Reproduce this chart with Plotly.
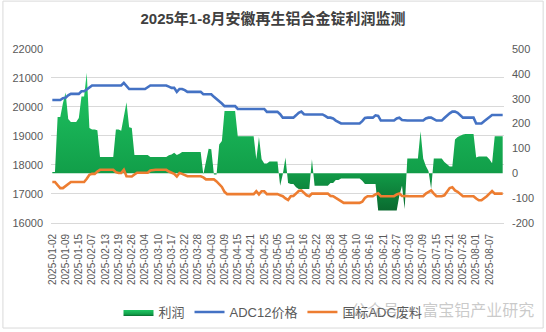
import plotly.graph_objects as go

# Tick labels shown on the category axis (one every 5 trading days)
date_labels = [
    "2025-01-02", "2025-01-09", "2025-01-15", "2025-02-07", "2025-02-13",
    "2025-02-19", "2025-02-26", "2025-03-04", "2025-03-10", "2025-03-17",
    "2025-03-22", "2025-03-28", "2025-04-03", "2025-04-09", "2025-04-15",
    "2025-04-21", "2025-04-25", "2025-05-05", "2025-05-10", "2025-05-16",
    "2025-05-22", "2025-05-28", "2025-06-04", "2025-06-10", "2025-06-16",
    "2025-06-21", "2025-06-27", "2025-07-03", "2025-07-09", "2025-07-15",
    "2025-07-21", "2025-07-26", "2025-08-01", "2025-08-07",
]
label_step = 5

# ADC12 price (yuan/t), left axis
adc12_price = [
    20240, 20240, 20240, 20240, 20300, 20320, 20400, 20450, 20450, 20450,
    20450, 20540, 20540, 20600, 20680, 20740, 20740, 20740, 20740, 20740,
    20740, 20740, 20740, 20740, 20740, 20740, 20740, 20830, 20720, 20620,
    20620, 20620, 20620, 20620, 20620, 20620, 20680, 20740, 20740, 20740,
    20740, 20740, 20740, 20740, 20700, 20660, 20660, 20520, 20620, 20620,
    20580, 20520, 20520, 20520, 20520, 20520, 20520, 20440, 20440, 20440,
    20440, 20350, 20280, 20200, 20120, 20030, 20030, 20030, 20030, 20030,
    19930, 19930, 19930, 19930, 19930, 19930, 19930, 19930, 19930, 19930,
    19930, 19830, 19830, 19830, 19830, 19830, 19750, 19630, 19630, 19630,
    19630, 19630, 19710, 19800, 19840, 19750, 19740, 19740, 19740, 19740,
    19740, 19740, 19740, 19690, 19630, 19630, 19600, 19530, 19480, 19430,
    19430, 19430, 19430, 19430, 19430, 19430, 19430, 19510, 19620, 19630,
    19630, 19630, 19710, 19690, 19530, 19530, 19530, 19530, 19530, 19530,
    19600, 19630, 19550, 19530, 19530, 19530, 19530, 19530, 19530, 19530,
    19530, 19600, 19630, 19630, 19580, 19530, 19530, 19530, 19620, 19710,
    19780, 19840, 19840, 19800, 19720, 19630, 19630, 19630, 19630, 19630,
    19430, 19430, 19430, 19510, 19580, 19660, 19720, 19720, 19720, 19720,
    19720,
]

# National-standard ADC scrap price (yuan/t), left axis
adc_scrap_price = [
    17410, 17410, 17300, 17200, 17200, 17260, 17350, 17410, 17410, 17410,
    17410, 17410, 17410, 17520, 17660, 17690, 17690, 17770, 17830, 17830,
    17830, 17830, 17830, 17830, 17750, 17720, 17720, 17830, 17610, 17600,
    17600, 17670, 17730, 17730, 17730, 17730, 17730, 17810, 17830, 17830,
    17830, 17830, 17830, 17830, 17770, 17730, 17690, 17600, 17720, 17690,
    17640, 17610, 17610, 17610, 17610, 17610, 17610, 17570, 17500, 17500,
    17500, 17500, 17430, 17350, 17240, 17070, 16990, 16990, 16990, 16990,
    16990, 16990, 16990, 16990, 16990, 16990, 16990, 17090, 16980, 17090,
    17090, 16990, 16990, 16990, 16990, 16990, 16950, 16920, 16840, 16790,
    16920, 16930, 17010, 17100, 17120, 17030, 16950, 16920, 17010, 17010,
    17010, 17010, 17010, 17010, 17010, 16930, 16920, 16860, 16800, 16730,
    16690, 16690, 16690, 16690, 16690, 16690, 16690, 16730, 16860, 16920,
    16920, 16920, 16980, 17020, 16920, 16920, 16920, 16920, 16920, 16920,
    16980, 17010, 16930, 16920, 16920, 16920, 16920, 16920, 16920, 16920,
    16920, 17010, 17070, 17120, 17010, 16920, 16920, 16920, 16950, 17090,
    17200, 17230, 17120, 17070, 17010, 16920, 16920, 16920, 16920, 16920,
    16840, 16780, 16780, 16840, 16920, 17010, 17100, 17010, 17010, 17010,
    17010,
]

# Ingot profit (yuan/t), right axis
profit = [
    5, 5, 226, 226, 282, 325, 218, 206, 206, 206,
    222, 309, 309, 404, 182, 176, 176, 173, 65, 65,
    65, 65, 65, 65, 176, 176, 171, 229, 286, 185,
    182, 73, 73, 73, 73, 73, 73, 65, 65, 65,
    65, 65, 65, 65, 72, 75, 82, 73, 78, 85,
    85, 85, 85, 85, 85, 85, 85, -5, 40, 98,
    96, -5, -5, 115, 130, 250, 250, 250, 250, 250,
    149, 149, 149, 149, 149, 149, 149, 56, 146, 56,
    39, 39, 47, 47, 47, 47, -51, -4, 63, -40,
    -44, -44, -57, -64, -64, -64, -64, -64, 56, -51,
    -51, -51, -51, -51, -51, -40, -40, -27, -27, -21,
    -21, -21, -21, -21, -21, -21, -21, -31, -44, -44,
    -44, -44, -44, -150, -150, -150, -150, -150, -150, -150,
    -150, -90, -51, -144, 59, 59, 59, 59, 59, 169,
    59, 29, 9, -64, 59, 59, 59, 59, 45, 36,
    27, 27, 136, 146, 152, 156, 158, 158, 158, 158,
    63, 67, 67, 67, 67, 56, 40, 149, 149, 149,
    149,
]

n = len(profit)
assert len(adc12_price) == n and len(adc_scrap_price) == n
x = list(range(n))
tick_idx = list(range(0, len(date_labels) * label_step, label_step))

W, H = 546, 332
ML, MR, MT, MB = 49, 40, 49, 107
PW, PH = W - ML - MR, H - MT - MB

tick_font = dict(family="Liberation Sans, Noto Sans CJK SC", size=11, color="#595959")

fig = go.Figure()

# Profit as a gradient-filled area (drawn underneath the price lines)
fig.add_trace(go.Scatter(
    x=x, y=profit, name="利润", mode="lines",
    line=dict(width=0, color="#14a14c"),
    fill="tozeroy",
    fillgradient=dict(
        type="vertical",
        colorscale=[[0, "#0a6a2f"], [0.3, "#12a04a"], [1, "#20c764"]],
    ),
    yaxis="y",
    hoverinfo="skip",
))
fig.add_trace(go.Scatter(
    x=x, y=adc12_price, name="ADC12价格", mode="lines",
    line=dict(color="#4472c4", width=2.6),
    yaxis="y2",
))
fig.add_trace(go.Scatter(
    x=x, y=adc_scrap_price, name="国标ADC废料", mode="lines",
    line=dict(color="#ed7d31", width=2.6),
    yaxis="y2",
))

right_ticks = list(range(-200, 501, 100))

fig.update_layout(
    width=W, height=H,
    margin=dict(l=ML, r=MR, t=MT, b=MB, pad=0),
    paper_bgcolor="white", plot_bgcolor="white",
    font=dict(family="Liberation Sans, Noto Sans CJK SC", color="#595959"),
    title=dict(
        text="<b>2025年1-8月安徽再生铝合金锭利润监测</b>",
        x=0.5, xanchor="center", xref="container",
        y=1 - 19 / H, yanchor="middle", yref="container",
        font=dict(family="Liberation Sans, Noto Sans CJK SC", size=15, color="#404040"),
    ),
    xaxis=dict(
        range=[-0.5, n - 0.5],
        tickmode="array", tickvals=tick_idx, ticktext=date_labels,
        tickangle=-90, tickfont=dict(family="Liberation Sans, Noto Sans CJK SC", size=10, color="#595959"),
        showgrid=False, zeroline=False,
        showline=True, linecolor="#d9d9d9", linewidth=1,
        ticks="", ticklabelstandoff=6,
    ),
    yaxis=dict(
        side="right", range=[-200, 500],
        tickmode="array", tickvals=right_ticks, ticktext=[str(v) for v in right_ticks],
        showgrid=False, zeroline=False, showline=False,
        tickfont=tick_font, ticks="", ticklabelstandoff=7,
    ),
    yaxis2=dict(
        overlaying="y", side="left", anchor="x",
        range=[16000, 22000], dtick=1000, tickformat="d",
        showgrid=True, gridcolor="#d9d9d9", gridwidth=1,
        zeroline=False, showline=False,
        tickfont=tick_font, ticks="", ticklabelstandoff=7,
    ),
    legend=dict(
        orientation="h", x=0.5, xanchor="center", xref="container",
        y=1 - 312 / H, yanchor="middle", yref="container",
        font=dict(family="Liberation Sans, Noto Sans CJK SC", size=13, color="#595959"),
        bgcolor="rgba(0,0,0,0)", itemwidth=30, traceorder="normal",
    ),
    showlegend=True,
)

# Account-name watermark along the bottom edge
fig.add_annotation(
    text="公众号 · 富宝铝产业研究",
    xref="paper", yref="paper",
    x=(444 - ML) / PW, y=(H - MB - 312) / PH,
    xanchor="center", yanchor="middle", showarrow=False,
    font=dict(family="Noto Sans CJK SC", size=16, color="rgba(150,150,150,0.5)"),
)

# Thin frame around the whole chart area
fig.add_shape(
    type="rect", xref="paper", yref="paper",
    x0=(0.5 - ML) / PW, x1=(W - 0.5 - ML) / PW,
    y0=(H - MB - (H - 0.5)) / PH, y1=(H - MB - 0.5) / PH,
    line=dict(color="#d9d9d9", width=1), fillcolor="rgba(0,0,0,0)",
    layer="below",
)

fig.write_html("out.html")
